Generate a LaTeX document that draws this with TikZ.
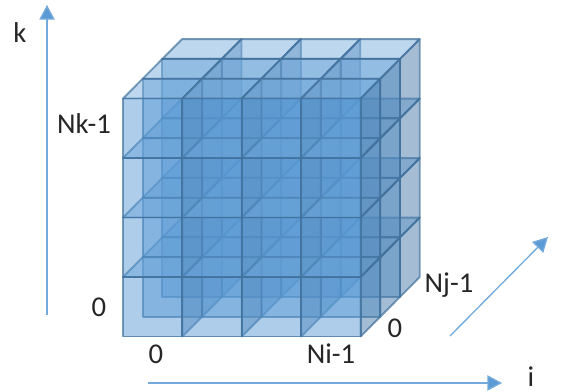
\documentclass[tikz,border=0pt]{standalone}
\usepackage{fontspec}
\setmainfont{Carlito}
\usetikzlibrary{calc,arrows.meta}
\definecolor{frontblue}{HTML}{5B9BD5}
\definecolor{topblue}{HTML}{7CAFDD}
\definecolor{sideblue}{HTML}{4A7CAB}
\definecolor{edgeblue}{HTML}{41719C}
\definecolor{axisblue}{HTML}{5B9BD5}
\tikzset{
    face/.style = {draw = edgeblue, line width = 1.4pt, line join = round, fill opacity = 0.5, draw opacity = 0.7},
    axis/.style = {draw = axisblue!85!white, line width = 1pt, -{Triangle[length = 11pt, width = 11.5pt, fill = axisblue]}},
    tick/.style = {font = \fontsize{21.5}{25}\selectfont, text = black!85, inner sep = 0pt},
}

\begin{document}
\begin{tikzpicture}[x=0.75pt, y=-0.75pt]
    \useasboundingbox (0,0) rectangle (561,392);
    \coordinate(O)at(123,336.5);
    \coordinate(x)at(59.4,0); % vector
    \coordinate(y)at(0,-59.5); % vector
    \coordinate(v)at(19.7,-19.8); % vector

    % cells, back layer first
    \foreach \d in {2,1,0}{
        \foreach \r in {0,1,2,3}{
            \foreach \c in {0,1,2,3}{
                \coordinate(P)at($(O)+\c*(x)+\r*(y)+\d*(v)$);
                \coordinate(Px)at($(P)+(x)$);
                \coordinate(Py)at($(P)+(y)$);
                \coordinate(Pxy)at($(Px)+(y)$);
                \path[face, fill = topblue](Py)to(Pxy)to($(Pxy)+(v)$)to($(Py)+(v)$)to cycle; % top
                \path[face, fill = sideblue](Px)to($(Px)+(v)$)to($(Pxy)+(v)$)to(Pxy)to cycle; % right
                \path[face, fill = frontblue](P)to(Px)to(Pxy)to(Py)to cycle; % front
            }
        }
    }

    % axes
    \coordinate(k0)at(47,315);
    \coordinate(k1)at(47,5);
    \coordinate(i0)at(148,383);
    \coordinate(i1)at(502,383);
    \coordinate(j0)at(450,336);
    \coordinate(j1)at(548,237);
    \path[axis](k0)to(k1);
    \path[axis](i0)to(i1);
    \path[axis](j0)to(j1);

    % labels
    \node[tick](labelk)at(20,33){k};
    \node[tick](labeli)at(531,377){i};
    \node[tick](labelNk)at(84,124){Nk-1};
    \node[tick](labelk0)at(99,307){0};
    \node[tick](labeli0)at(156,354){0};
    \node[tick](labelNi)at(331,354){Ni-1};
    \node[tick](labelj0)at(395,328){0};
    \node[tick](labelNj)at(449,285){Nj-1};
\end{tikzpicture}
\end{document}
